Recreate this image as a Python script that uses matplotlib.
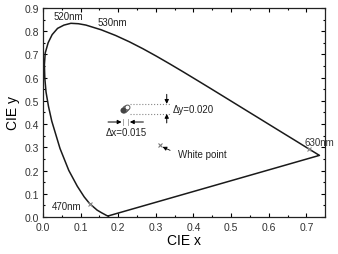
import matplotlib
matplotlib.use('Agg')
import matplotlib.pyplot as plt
from matplotlib.ticker import MultipleLocator

plt.rcParams['font.family'] = ['Liberation Sans', 'DejaVu Sans']

# CIE 1931 spectral locus (nm, x, y)
wavelengths = [380, 410, 420, 430, 440, 450, 460, 470, 475, 480, 485, 490, 495, 497.5, 500,
               502.5, 505, 507.5, 510, 512.5, 515, 517.5, 520, 522.5, 525, 530, 535, 540,
               545, 550, 555, 560, 565, 570, 575, 580, 585, 590, 595, 600, 605, 610, 620,
               630, 640, 650, 660, 680, 700]
locus_x = [0.1741, 0.1726, 0.1714, 0.1689, 0.1644, 0.1566, 0.1440, 0.1241, 0.1096, 0.0913,
           0.0687, 0.0454, 0.0235, 0.0148, 0.0082, 0.0050, 0.0039, 0.0061, 0.0139, 0.0245,
           0.0389, 0.0558, 0.0743, 0.0942, 0.1142, 0.1547, 0.1929, 0.2296, 0.2658, 0.3016,
           0.3373, 0.3731, 0.4087, 0.4441, 0.4788, 0.5125, 0.5448, 0.5752, 0.6029, 0.6270,
           0.6482, 0.6658, 0.6915, 0.7079, 0.7190, 0.7260, 0.7300, 0.7334, 0.7347]
locus_y = [0.0050, 0.0048, 0.0051, 0.0069, 0.0109, 0.0177, 0.0297, 0.0578, 0.0868, 0.1327,
           0.2007, 0.2950, 0.4127, 0.4760, 0.5384, 0.5980, 0.6548, 0.7060, 0.7502, 0.7850,
           0.8120, 0.8260, 0.8338, 0.8320, 0.8262, 0.8059, 0.7816, 0.7543, 0.7243, 0.6923,
           0.6589, 0.6245, 0.5896, 0.5547, 0.5202, 0.4866, 0.4544, 0.4242, 0.3965, 0.3725,
           0.3514, 0.3340, 0.3083, 0.2920, 0.2809, 0.2740, 0.2700, 0.2666, 0.2653]

# measured colour points (cluster)
pts_x = [0.213, 0.215, 0.217, 0.219, 0.221, 0.223]
pts_y = [0.459, 0.462, 0.465, 0.468, 0.471, 0.473]

white_x, white_y = 0.31, 0.31
marked_nm = [470, 630]

fig = plt.figure(figsize=(3.38, 2.55), dpi=100)
ax = fig.add_axes([0.127, 0.145, 0.835, 0.82])

# locus + purple line
ax.plot(locus_x + [locus_x[0]], locus_y + [locus_y[0]], color='#1a1a1a', lw=1.1)

for nm in marked_nm:
    i = wavelengths.index(nm)
    ax.plot(locus_x[i], locus_y[i], 'x', color='#888888', ms=3.5, mew=0.8)

ax.text(0.027, 0.866, '520nm', fontsize=7, va='center', color='#222222')
ax.text(0.146, 0.840, '530nm', fontsize=7, va='center', color='#222222')
ax.text(0.694, 0.323, '630nm', fontsize=7, va='center', color='#333333')
ax.text(0.024, 0.047, '470nm', fontsize=7, va='center', color='#222222')

# cluster
ax.plot(pts_x, pts_y, 'o', ms=3.5, mfc='white', mec='#555555', mew=0.7)
ax.plot(pts_x[0], pts_y[0], 'o', ms=3, color='#444444')

# dy markers
ax.plot([0.231, 0.337], [0.487, 0.487], ls=':', color='#888888', lw=0.8)
ax.plot([0.231, 0.337], [0.444, 0.444], ls=':', color='#888888', lw=0.8)
arr = dict(arrowstyle='-|>', color='black', lw=0.7, mutation_scale=6, shrinkA=0, shrinkB=0)
ax.annotate('', xy=(0.329, 0.487), xytext=(0.329, 0.528), arrowprops=arr)
ax.annotate('', xy=(0.329, 0.444), xytext=(0.329, 0.405), arrowprops=arr)
ax.text(0.345, 0.466, '\u0394y=0.020', fontsize=7, va='center', color='#222222')

# dx markers
ax.plot([0.212, 0.212], [0.396, 0.420], color='#999999', lw=0.6)
ax.plot([0.226, 0.226], [0.396, 0.420], color='#999999', lw=0.6)
ax.annotate('', xy=(0.209, 0.409), xytext=(0.173, 0.409), arrowprops=arr)
ax.annotate('', xy=(0.231, 0.409), xytext=(0.267, 0.409), arrowprops=arr)
ax.text(0.222, 0.365, '\u0394x=0.015', fontsize=7, ha='center', va='center', color='#222222')

# white point
ax.plot(white_x, white_y, 'x', color='#777777', ms=3, mew=0.8)
ax.annotate('', xy=(0.318, 0.302), xytext=(0.338, 0.287),
            arrowprops=dict(arrowstyle='-|>', color='black', lw=0.6, mutation_scale=6,
                            shrinkA=0, shrinkB=0))
ax.text(0.358, 0.270, 'White point', fontsize=7, va='center', color='#222222')

ax.set_xlim(0, 0.75)
ax.set_ylim(0, 0.9)
ax.xaxis.set_major_locator(MultipleLocator(0.1))
ax.xaxis.set_minor_locator(MultipleLocator(0.05))
ax.yaxis.set_major_locator(MultipleLocator(0.1))
ax.yaxis.set_minor_locator(MultipleLocator(0.05))
ax.tick_params(which='both', direction='in', top=True, right=True, labelsize=7.5,
               labelcolor='#333333', width=0.8)
ax.tick_params(axis='x', pad=3.5)
ax.tick_params(axis='y', pad=3)
ax.tick_params(which='major', length=3)
ax.tick_params(which='minor', length=1.5)
ax.set_xticklabels([f'{v:.1f}' for v in ax.get_xticks()])
ax.set_yticklabels([f'{v:.1f}' for v in ax.get_yticks()])
ax.set_xlim(0, 0.75)
ax.set_ylim(0, 0.9)
for s in ax.spines.values():
    s.set_linewidth(0.9)
    s.set_color('#222222')

ax.set_xlabel('CIE x', fontsize=10, labelpad=1)
ax.set_ylabel('CIE y', fontsize=10, labelpad=3)

fig.savefig('out.png', dpi=100)
